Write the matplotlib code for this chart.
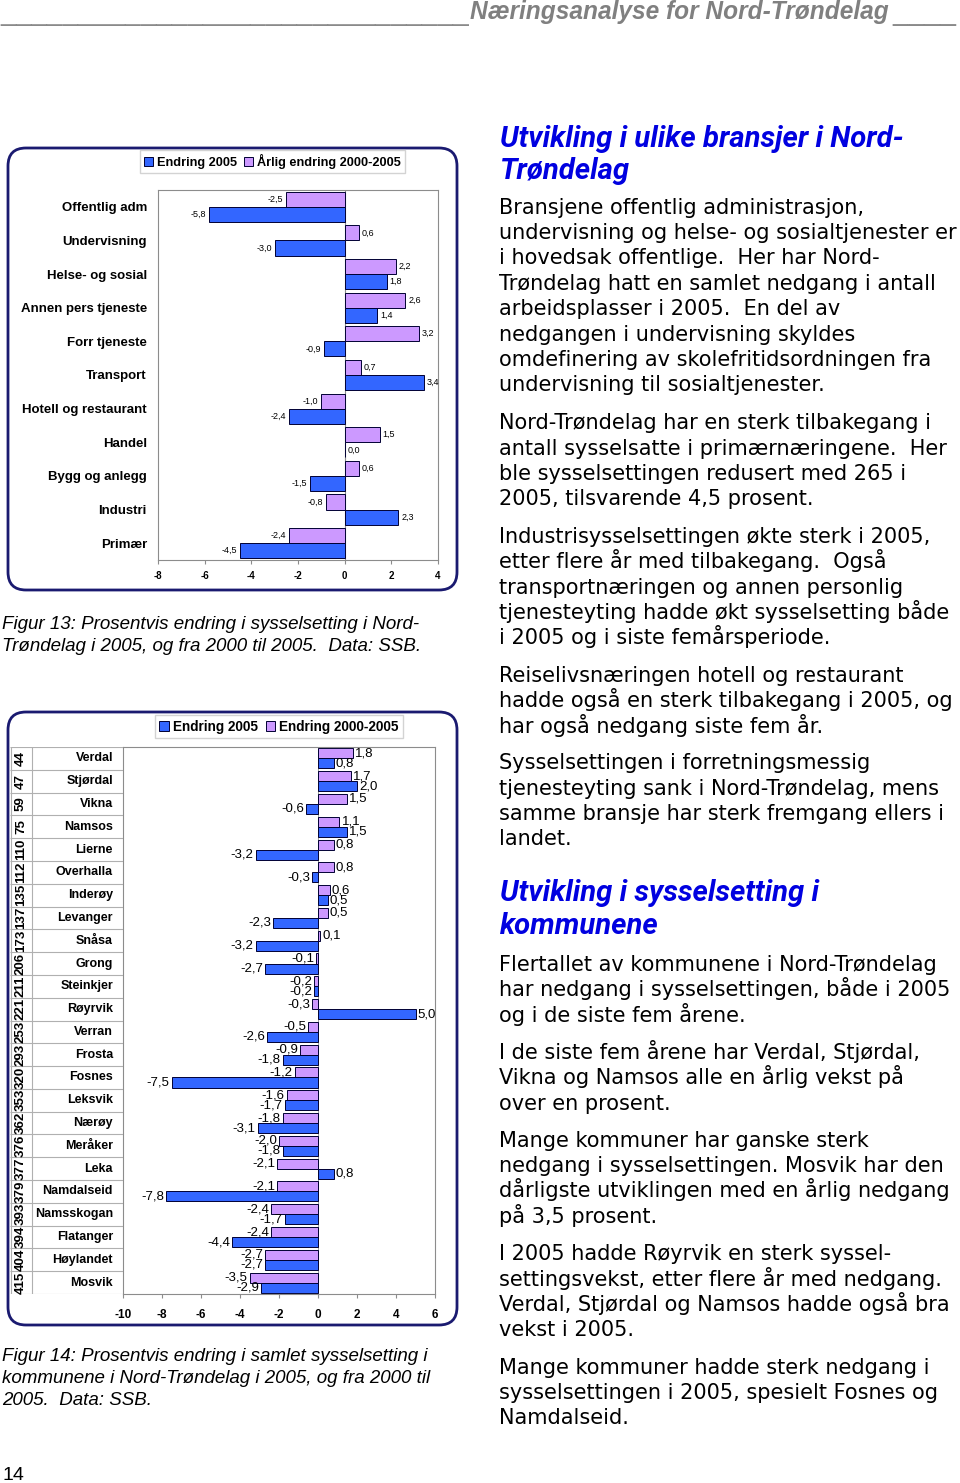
import matplotlib
matplotlib.use("Agg")
import matplotlib.pyplot as plt
from matplotlib.patches import FancyBboxPatch

plt.rcParams['font.family'] = ['Liberation Sans', 'DejaVu Sans']
plt.rcParams['axes.unicode_minus'] = False

W, H = 960, 1483

# Figur 13: bransjer
sectors = ["Offentlig adm", "Undervisning", "Helse- og sosial", "Annen pers tjeneste",
           "Forr tjeneste", "Transport", "Hotell og restaurant", "Handel",
           "Bygg og anlegg", "Industri", "Primær"]
sector_2005 = [-5.8, -3.0, 1.8, 1.4, -0.9, 3.4, -2.4, 0.0, -1.5, 2.3, -4.5]
sector_annual = [-2.5, 0.6, 2.2, 2.6, 3.2, 0.7, -1.0, 1.5, 0.6, -0.8, -2.4]

# Figur 14: kommuner
kommuner = ["Verdal", "Stjørdal", "Vikna", "Namsos", "Lierne", "Overhalla", "Inderøy",
            "Levanger", "Snåsa", "Grong", "Steinkjer", "Røyrvik", "Verran", "Frosta",
            "Fosnes", "Leksvik", "Nærøy", "Meråker", "Leka", "Namdalseid", "Namsskogan",
            "Flatanger", "Høylandet", "Mosvik"]
rank = [44, 47, 59, 75, 110, 112, 135, 137, 173, 206, 211, 221, 253, 293, 320, 353,
        362, 376, 377, 379, 393, 394, 404, 415]
komm_2005 = [0.8, 2.0, -0.6, 1.5, -3.2, -0.3, 0.5, -2.3, -3.2, -2.7, -0.2, 5.0, -2.6,
             -1.8, -7.5, -1.7, -3.1, -1.8, 0.8, -7.8, -1.7, -4.4, -2.7, -2.9]
komm_0005 = [1.8, 1.7, 1.5, 1.1, 0.8, 0.8, 0.6, 0.5, 0.1, -0.1, -0.2, -0.3, -0.5, -0.9,
             -1.2, -1.6, -1.8, -2.0, -2.1, -2.1, -2.4, -2.4, -2.7, -3.5]

BLUE = "#3366FF"
PURPLE = "#CC99FF"
EDGE = "#000033"
GRAY = "#8c8c8c"
NAVY = "#1a1a70"
HEAD = "#0000E0"


def frac(l, t, r, b):
    return [l / W, 1 - b / H, (r - l) / W, (b - t) / H]


def fmt(v):
    return f"{v:.1f}".replace(".", ",")


fig = plt.figure(figsize=(W / 100, H / 100), dpi=100)
renderer = fig.canvas.get_renderer()

# page layer in pixel coordinates
page = fig.add_axes([0, 0, 1, 1], zorder=0)
page.set_xlim(0, W)
page.set_ylim(H, 0)
page.axis("off")

for (x0, y0, x1, y1) in [(8, 148, 457, 590), (8, 712, 457, 1325)]:
    page.add_patch(FancyBboxPatch((x0, y0), x1 - x0, y1 - y0,
                                  boxstyle="round,pad=0,rounding_size=18",
                                  fc="white", ec=NAVY, lw=2))


def fit(x, y, s, width, **kw):
    t = page.text(x, y, s, **kw)
    bb = t.get_window_extent(renderer=renderer)
    t.set_fontsize(t.get_fontsize() * width / bb.width)
    return t


# header
fit(0, 20, "_" * 30, 468, color="#8a8a8a", fontsize=14, va="baseline")
fit(470, 19, "Næringsanalyse for Nord-Trøndelag", 420, color="#808080",
    fontsize=14, style="italic", weight="bold", va="baseline")
fit(892, 20, "_" * 4, 64, color="#8a8a8a", fontsize=14, va="baseline")

# ---------- Figur 13 ----------
ax1 = fig.add_axes(frac(158, 190, 438, 560), zorder=1)
y = list(range(len(sectors)))
b_ann = ax1.barh([i - 0.225 for i in y], sector_annual, height=0.45, color=PURPLE,
                 edgecolor=EDGE, lw=0.7, label="Årlig endring 2000-2005")
b_05 = ax1.barh([i + 0.225 for i in y], sector_2005, height=0.45, color=BLUE,
                edgecolor=EDGE, lw=0.7, label="Endring 2005")
for vals, off in [(sector_annual, -0.225), (sector_2005, 0.225)]:
    for i, v in enumerate(vals):
        ax1.annotate(fmt(v), (v, i + off), xytext=(2 if v >= 0 else -2, 0),
                     textcoords="offset points", ha="left" if v >= 0 else "right",
                     va="center", fontsize=6.5)
ax1.set_xlim(-8, 4)
ax1.set_ylim(len(sectors) - 0.5, -0.5)
ax1.set_xticks(range(-8, 5, 2))
ax1.set_yticks(y)
ax1.set_yticklabels(sectors, fontsize=9.5, weight="bold")
ax1.tick_params(axis="y", length=0, pad=8)
ax1.tick_params(axis="x", length=3, color=GRAY, labelsize=7, pad=5)
for lab in ax1.get_xticklabels():
    lab.set_weight("bold")
for sp in ax1.spines.values():
    sp.set_color(GRAY)
    sp.set_linewidth(0.8)
ax1.axvline(0, color=GRAY, lw=0.8, zorder=0)
fig.legend([b_05, b_ann], ["Endring 2005", "Årlig endring 2000-2005"], loc="center",
           bbox_to_anchor=(272.5 / W, 1 - 161.5 / H), ncol=2, frameon=True,
           fancybox=False, edgecolor="#c8c8c8", prop={"size": 9.2, "weight": "bold"},
           handlelength=0.7, handleheight=0.7, handletextpad=0.3, columnspacing=0.6,
           borderpad=0.3, borderaxespad=0)

# ---------- Figur 14 ----------
ax2 = fig.add_axes(frac(123, 747, 435, 1294), zorder=1)
y2 = list(range(len(kommuner)))
k_ann = ax2.barh([i - 0.22 for i in y2], komm_0005, height=0.44, color=PURPLE,
                 edgecolor=EDGE, lw=0.7)
k_05 = ax2.barh([i + 0.22 for i in y2], komm_2005, height=0.44, color=BLUE,
                edgecolor=EDGE, lw=0.7)
for vals, off in [(komm_0005, -0.22), (komm_2005, 0.22)]:
    for i, v in enumerate(vals):
        ax2.annotate(fmt(v), (v, i + off), xytext=(1.5 if v >= 0 else -1.5, 0),
                     textcoords="offset points", ha="left" if v >= 0 else "right",
                     va="center", fontsize=9.5)
ax2.set_xlim(-10, 6)
ax2.set_ylim(len(kommuner) - 0.5, -0.5)
ax2.set_xticks(range(-10, 7, 2))
ax2.set_yticks([])
ax2.tick_params(axis="x", length=3, color=GRAY, labelsize=8.5, pad=8)
for lab in ax2.get_xticklabels():
    lab.set_weight("bold")
for sp in ax2.spines.values():
    sp.set_color(GRAY)
    sp.set_linewidth(0.8)
ax2.axvline(0, color=GRAY, lw=0.6, zorder=0)
fig.legend([k_05, k_ann], ["Endring 2005", "Endring 2000-2005"], loc="center",
           bbox_to_anchor=(279 / W, 1 - 726.5 / H), ncol=2, frameon=True,
           fancybox=False, edgecolor="#c8c8c8", prop={"size": 9.8, "weight": "bold"},
           handlelength=0.7, handleheight=0.7, handletextpad=0.3, columnspacing=0.6,
           borderpad=0.3, borderaxespad=0)

# table with rank and name
tab = fig.add_axes(frac(10, 747, 123, 1294), zorder=1)
tab.set_xlim(10, 123)
tab.set_ylim(len(kommuner) - 0.5, -0.5)
tab.axis("off")
for i, (r, k) in enumerate(zip(rank, kommuner)):
    tab.text(113, i, k, ha="right", va="center", fontsize=9, weight="bold")
    tab.text(21, i, str(r), ha="center", va="center", fontsize=9.5, weight="bold",
             rotation=90)
tab.hlines([i - 0.5 for i in range(len(kommuner) + 1)], 10, 123, color="#b0b0b0", lw=0.8)
tab.vlines([10.5, 32], -0.5, len(kommuner) - 0.5, color="#b0b0b0", lw=0.8)

# captions
cap = dict(fontsize=13.5, style="italic", va="baseline")
page.text(2, 629, "Figur 13: Prosentvis endring i sysselsetting i Nord-", **cap)
page.text(2, 651, "Trøndelag i 2005, og fra 2000 til 2005.  Data: SSB.", **cap)
page.text(2, 1361, "Figur 14: Prosentvis endring i samlet sysselsetting i", **cap)
page.text(2, 1383, "kommunene i Nord-Trøndelag i 2005, og fra 2000 til", **cap)
page.text(2, 1405, "2005.  Data: SSB.", **cap)
page.text(2, 1480, "14", fontsize=14, va="baseline")

# headings
h1 = fit(500, 147, "Utvikling i ulike bransjer i Nord-", 403, fontsize=20,
         family="Roboto", weight="bold", style="italic", color=HEAD, va="baseline")
page.text(500, 179, "Trøndelag", fontsize=h1.get_fontsize(), family="Roboto",
          weight="bold", style="italic", color=HEAD, va="baseline")
page.text(500, 901, "Utvikling i sysselsetting i", fontsize=h1.get_fontsize(),
          family="Roboto", weight="bold", style="italic", color=HEAD, va="baseline")
page.text(500, 934, "kommunene", fontsize=h1.get_fontsize(), family="Roboto",
          weight="bold", style="italic", color=HEAD, va="baseline")

body = [
    (207, "Bransjene offentlig administrasjon,"),
    (232, "undervisning og helse- og sosialtjenester er"),
    (257, "i hovedsak offentlige.  Her har Nord-"),
    (283, "Trøndelag hatt en samlet nedgang i antall"),
    (308, "arbeidsplasser i 2005.  En del av"),
    (334, "nedgangen i undervisning skyldes"),
    (359, "omdefinering av skolefritidsordningen fra"),
    (384, "undervisning til sosialtjenester."),
    (422, "Nord-Trøndelag har en sterk tilbakegang i"),
    (448, "antall sysselsatte i primærnæringene.  Her"),
    (473, "ble sysselsettingen redusert med 265 i"),
    (498, "2005, tilsvarende 4,5 prosent."),
    (536, "Industrisysselsettingen økte sterk i 2005,"),
    (561, "etter flere år med tilbakegang.  Også"),
    (587, "transportnæringen og annen personlig"),
    (612, "tjenesteyting hadde økt sysselsetting både"),
    (637, "i 2005 og i siste femårsperiode."),
    (675, "Reiselivsnæringen hotell og restaurant"),
    (700, "hadde også en sterk tilbakegang i 2005, og"),
    (726, "har også nedgang siste fem år."),
    (762, "Sysselsettingen i forretningsmessig"),
    (788, "tjenesteyting sank i Nord-Trøndelag, mens"),
    (813, "samme bransje har sterk fremgang ellers i"),
    (838, "landet."),
    (964, "Flertallet av kommunene i Nord-Trøndelag"),
    (989, "har nedgang i sysselsettingen, både i 2005"),
    (1015, "og i de siste fem årene."),
    (1052, "I de siste fem årene har Verdal, Stjørdal,"),
    (1077, "Vikna og Namsos alle en årlig vekst på"),
    (1103, "over en prosent."),
    (1140, "Mange kommuner har ganske sterk"),
    (1165, "nedgang i sysselsettingen. Mosvik har den"),
    (1190, "dårligste utviklingen med en årlig nedgang"),
    (1216, "på 3,5 prosent."),
    (1253, "I 2005 hadde Røyrvik en sterk syssel-"),
    (1279, "settingsvekst, etter flere år med nedgang."),
    (1304, "Verdal, Stjørdal og Namsos hadde også bra"),
    (1329, "vekst i 2005."),
    (1367, "Mange kommuner hadde sterk nedgang i"),
    (1392, "sysselsettingen i 2005, spesielt Fosnes og"),
    (1417, "Namdalseid."),
]
for yy, line in body:
    page.text(499, yy + 7, line, fontsize=15, family="DejaVu Sans", va="baseline")

fig.savefig("out.png", dpi=100)
